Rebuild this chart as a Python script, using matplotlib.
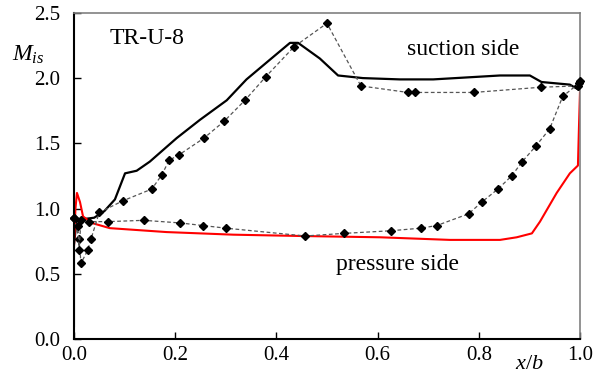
import numpy as np
import matplotlib.pyplot as plt

# suction side, experiment (diamonds)
ss_exp_x = [0.0, 0.010, 0.014, 0.027, 0.034, 0.050, 0.097, 0.154, 0.174, 0.188, 0.207,
            0.257, 0.297, 0.338, 0.379, 0.435, 0.500, 0.567, 0.660, 0.674, 0.790,
            0.923, 0.996, 1.0]
ss_exp_y = [0.93, 0.77, 0.58, 0.68, 0.77, 0.97, 1.06, 1.15, 1.26, 1.37, 1.41,
            1.54, 1.67, 1.83, 2.01, 2.24, 2.42, 1.94, 1.89, 1.89, 1.89,
            1.93, 1.94, 1.98]

# pressure side, experiment (diamonds)
ps_exp_x = [0.0, 0.008, 0.010, 0.014, 0.030, 0.067, 0.138, 0.210, 0.255, 0.300,
            0.457, 0.534, 0.626, 0.686, 0.717, 0.780, 0.806, 0.838, 0.865, 0.886,
            0.913, 0.940, 0.966, 0.998]
ps_exp_y = [0.93, 0.87, 0.68, 0.91, 0.90, 0.90, 0.91, 0.89, 0.87, 0.85,
            0.79, 0.81, 0.83, 0.85, 0.87, 0.96, 1.05, 1.15, 1.25, 1.36,
            1.48, 1.61, 1.86, 1.96]

# suction side, calculation (black)
ss_cfd_x = [0.0, 0.0, 0.005, 0.020, 0.040, 0.060, 0.081, 0.101, 0.124, 0.150, 0.203,
            0.249, 0.302, 0.341, 0.387, 0.427, 0.443, 0.486, 0.522, 0.571, 0.644,
            0.710, 0.842, 0.901, 0.924, 0.980, 0.998, 1.0]
ss_cfd_y = [0.10, 0.72, 0.90, 0.92, 0.93, 0.98, 1.07, 1.27, 1.29, 1.36, 1.54,
            1.68, 1.83, 1.99, 2.14, 2.27, 2.27, 2.15, 2.02, 2.00, 1.99,
            1.99, 2.02, 2.02, 1.97, 1.95, 1.91, 1.98]

# pressure side, calculation (red)
ps_cfd_x = [0.0, 0.0, 0.003, 0.006, 0.012, 0.018, 0.035, 0.071, 0.183, 0.315, 0.447,
            0.605, 0.743, 0.842, 0.875, 0.905, 0.921, 0.954, 0.980, 0.996, 0.998, 1.0]
ps_cfd_y = [0.0, 0.70, 1.00, 1.12, 1.05, 0.94, 0.89, 0.85, 0.82, 0.80, 0.79,
            0.78, 0.76, 0.76, 0.78, 0.81, 0.90, 1.12, 1.27, 1.33, 1.62, 1.89]

x_ticks = [0.0, 0.2, 0.4, 0.6, 0.8, 1.0]
y_ticks = [0.0, 0.5, 1.0, 1.5, 2.0, 2.5]

plt.rcParams['font.family'] = ['Liberation Serif', 'DejaVu Serif']
plt.rcParams['mathtext.fontset'] = 'custom'
plt.rcParams['mathtext.it'] = 'Liberation Serif:italic'
plt.rcParams['mathtext.rm'] = 'Liberation Serif'

fig = plt.figure(figsize=(6.01, 3.78), dpi=100)
ax = fig.add_axes([0.123, 0.103, 0.842, 0.863])

dash = dict(color='#555555', lw=0.9, ls=(0, (3, 2)), marker='D', ms=4.5,
            mfc='black', mec='black', clip_on=False, zorder=3)
ax.plot(ss_exp_x, ss_exp_y, **dash)
ax.plot(ps_exp_x, ps_exp_y, **dash)
ax.plot(ss_cfd_x, ss_cfd_y, color='black', lw=1.6, zorder=2)
ax.plot(ps_cfd_x, ps_cfd_y, color='red', lw=1.5, zorder=2)

ax.set_xlim(0, 1)
ax.set_ylim(0, 2.5)
ax.set_xticks(x_ticks)
ax.set_yticks(y_ticks)
ax.set_xticklabels(['%.1f' % v for v in x_ticks])
ax.set_yticklabels(['%.1f' % v for v in y_ticks])
ax.tick_params(direction='in', length=5, width=1, colors='black', labelsize=15,
               top=False, right=False)
ax.tick_params(axis='y', pad=10)
ax.tick_params(axis='x', pad=5)

for s in ['left', 'bottom']:
    ax.spines[s].set_color('black')
    ax.spines[s].set_linewidth(1.5)
for s in ['top', 'right']:
    ax.spines[s].set_color('#808080')
    ax.spines[s].set_linewidth(1.2)

ax.text(0.07, 2.30, 'TR-U-8', fontsize=17, ha='left', va='center')
ax.text(0.77, 2.22, 'suction side', fontsize=17, ha='center', va='center')
ax.text(0.64, 0.57, 'pressure side', fontsize=17, ha='center', va='center')
ax.text(-0.122, 0.87, r'$M_{is}$', fontsize=17, ha='left', va='center',
        transform=ax.transAxes)
ax.text(0.9, -0.05, r'$x/b$', fontsize=16, ha='center', va='top',
        transform=ax.transAxes)

fig.savefig('out.png', dpi=100)
